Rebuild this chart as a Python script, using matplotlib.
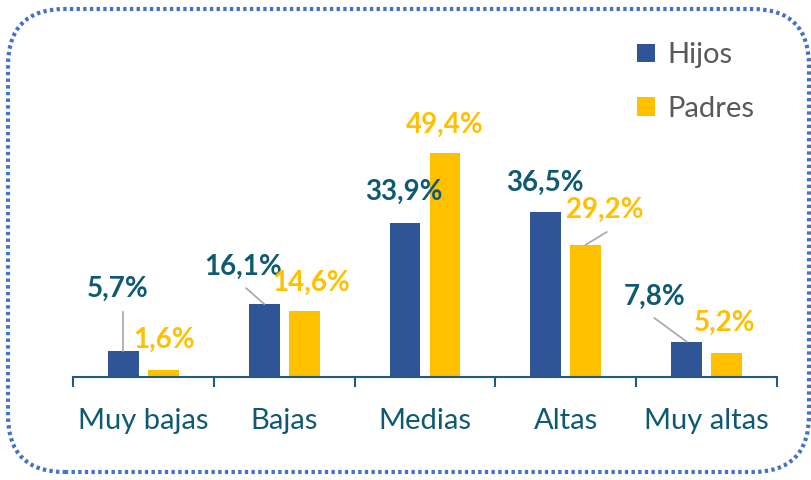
import matplotlib
matplotlib.use("Agg")
import matplotlib.pyplot as plt
from matplotlib.patches import FancyBboxPatch

categories = ["Muy bajas", "Bajas", "Medias", "Altas", "Muy altas"]
hijos = [5.7, 16.1, 33.9, 36.5, 7.8]
padres = [1.6, 14.6, 49.4, 29.2, 5.2]
series_names = ["Hijos", "Padres"]

# label placement (text centre in data coords)
hijos_lbl_pos = [(-0.18, 19.4), (0.71, 24.3), (1.85, 40.8), (2.85, 42.8), (3.63, 17.7)]
padres_lbl_pos = [(0.146, 8.2), (1.19, 20.8), (2.14, 55.6), (3.28, 36.9), (4.13, 11.9)]

fam = "Lato"

c_hijos = "#2F5597"
c_padres = "#FFC000"
c_text = "#0E5A73"
c_axis = "#1F5C7A"

fig = plt.figure(figsize=(8.12, 4.8), dpi=100)
ax = fig.add_axes([73/812, 103/480, 704/812, 357/480])
ax.set_xlim(-0.5, 4.5)
ax.set_ylim(0, 357/4.53)

w = 0.22
off = 0.142
x = list(range(len(categories)))
ax.bar([i - off for i in x], hijos, width=w, color=c_hijos, label=series_names[0])
ax.bar([i + off for i in x], padres, width=w, color=c_padres, label=series_names[1])

def fmt(v):
    return f"{v:.1f}".replace(".", ",") + "%"

lblsize = 20
for i, v in enumerate(hijos):
    tx, ty = hijos_lbl_pos[i]
    ax.text(tx, ty, fmt(v), ha="center", va="center", color=c_text,
            fontsize=lblsize, fontweight="bold", family=fam)
for i, v in enumerate(padres):
    tx, ty = padres_lbl_pos[i]
    ax.text(tx, ty, fmt(v), ha="center", va="center", color=c_padres,
            fontsize=lblsize, fontweight="bold", family=fam)

# leader lines
lc = "#A6A6A6"
ax.plot([0 - off, 0 - off], [14.3, hijos[0]], color=lc, lw=1.2)
ax.plot([0.73, 1 - off], [19.6, hijos[1]], color=lc, lw=1.2)
ax.plot([3.29, 3 + off], [32.0, padres[3]], color=lc, lw=1.2)
ax.plot([3.63, 4 - off], [13.0, hijos[4]], color=lc, lw=1.2)

for s in ["top", "right", "left"]:
    ax.spines[s].set_visible(False)
ax.spines["bottom"].set_color(c_axis)
ax.spines["bottom"].set_linewidth(1.5)
ax.set_yticks([])
ax.set_xticks(x)
ax.set_xticklabels(categories, fontsize=21, color=c_text, family=fam)
ax.tick_params(axis="x", which="major", length=0, pad=22)
ax.set_xticks([i - 0.5 for i in range(len(categories) + 1)], minor=True)
ax.tick_params(axis="x", which="minor", length=7, width=1.5, color=c_axis)

leg = ax.legend(loc="upper left", bbox_to_anchor=(611/812, 464/480), bbox_transform=fig.transFigure,
                frameon=False, handlelength=0.62, handleheight=0.62,
                labelspacing=0.95, handletextpad=0.4, prop={"family": fam, "size": 21})
for t in leg.get_texts():
    t.set_color("#595959")

border = FancyBboxPatch((8/812, 8/480), 801/812, 463/480,
                        boxstyle="round,pad=0,rounding_size=0.07",
                        transform=fig.transFigure, fill=False,
                        edgecolor="#4472C4", linewidth=3, linestyle=(0, (0.8, 0.8)),
                        mutation_aspect=812/480)
fig.patches.append(border)

fig.savefig("out.png", dpi=100)
